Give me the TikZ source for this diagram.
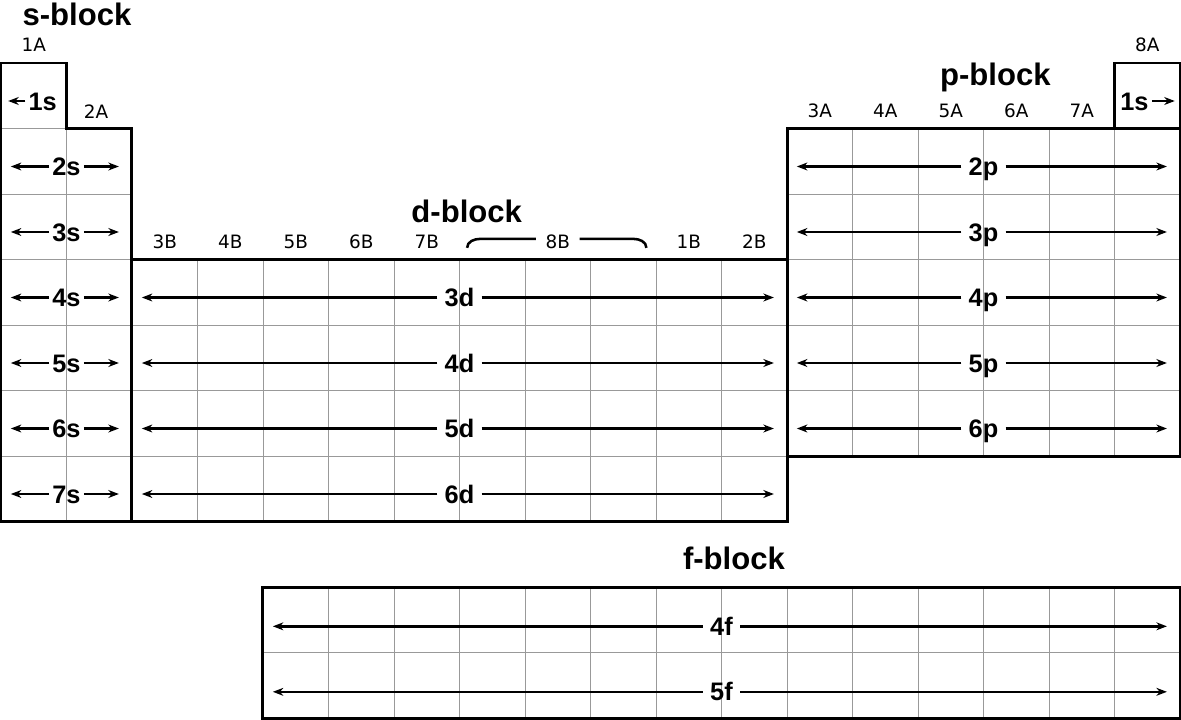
\documentclass[tikz,border=0pt]{standalone}
\usepackage{fontspec}
\setmainfont{DejaVu Sans}
\newfontfamily\headfont{Liberation Sans}
\usetikzlibrary{arrows.meta}

\begin{document}
\begin{tikzpicture}[
  font=\fontsize{8}{9.5}\selectfont,
  blk/.style={font=\headfont\bfseries\fontsize{13.5}{16}\selectfont, anchor=base, inner sep=0pt},
  orb/.style={font=\headfont\bfseries\fontsize{11}{13}\selectfont, text height=7.9pt, text depth=0pt, inner sep=3pt},
  sorb/.style={orb, inner sep=1.2pt},
  grp/.style={inner sep=1pt, text height=5.8pt, text depth=0pt},
  cell/.style={draw=black!40, line width=0.4pt},
  edge/.style={draw, line width=1.3pt},
  arr/.style={-{Stealth[length=1.6mm, width=1.2mm, inset=0.5mm]}, line width=1.1pt},
  brace/.style={line width=1.1pt}
]
\useasboundingbox (-0.015,-10.03) rectangle (18.015,0.962);

% cell grids
\draw[cell] (0,-1) grid (2,-7);
\draw[cell] (2,-3) grid (12,-7);
\draw[cell] (12,-1) grid (18,-6);
\draw[cell] (4,-8) grid (18,-10);

% block outlines
\draw[edge] (0,-7) -- (0,0) -- (1,0) -- (1,-1) -- (2,-1) -- (2,-7) -- cycle;
\draw[edge] (2,-3) rectangle (12,-7);
\draw[edge] (12,-1) rectangle (18,-6);
\draw[edge] (17,-1) -- (17,0) -- (18,0) -- (18,-1);
\draw[edge] (4,-8) rectangle (18,-10);

% block titles
\node[blk] (sblk) at (1.16,0.565) {s-block};
\node[blk] (dblk) at (7.11,-2.44) {d-block};
\node[blk] (pblk) at (15.18,-0.35) {p-block};
\node[blk] (fblk) at (11.19,-7.74) {f-block};

% group numbers
\node[grp] (g1A) at (0.5,0.27) {1A};
\node[grp] (g2A) at (1.45,-0.75) {2A};
\node[grp] (g3A) at (12.5,-0.73) {3A};
\node[grp] (g4A) at (13.5,-0.73) {4A};
\node[grp] (g5A) at (14.5,-0.73) {5A};
\node[grp] (g6A) at (15.5,-0.73) {6A};
\node[grp] (g7A) at (16.5,-0.73) {7A};
\node[grp] (g8A) at (17.5,0.27) {8A};
\node[grp] (g3B) at (2.5,-2.73) {3B};
\node[grp] (g4B) at (3.5,-2.73) {4B};
\node[grp] (g5B) at (4.5,-2.73) {5B};
\node[grp] (g6B) at (5.5,-2.73) {6B};
\node[grp] (g7B) at (6.5,-2.73) {7B};
\node[grp, inner xsep=4pt] (g8B) at (8.5,-2.73) {8B};
\node[grp] (g1B) at (10.5,-2.73) {1B};
\node[grp] (g2B) at (11.5,-2.73) {2B};

% bracket over 8B
\draw[brace] ([yshift=.45mm]g8B.west) -- ++(-0.85,0) to[out=180,in=90] ++(-0.2,-0.137);
\draw[brace] ([yshift=.45mm]g8B.east) -- ++(0.82,0) to[out=0,in=90] ++(0.2,-0.137);

% s block
\node[sorb, anchor=east] (s1) at (0.9,-0.58) {1s};
\coordinate (s1l) at (0.11,-0.58);
\draw[arr] (s1) -- (s1l);
\node[sorb] (s2) at (1,-1.58) {2s};
\coordinate (s2l) at (0.15,-1.58); \coordinate (s2r) at (1.8,-1.58);
\draw[arr] (s2) -- (s2l); \draw[arr] (s2) -- (s2r);
\node[sorb] (s3) at (1,-2.58) {3s};
\coordinate (s3l) at (0.15,-2.58); \coordinate (s3r) at (1.8,-2.58);
\draw[arr] (s3) -- (s3l); \draw[arr] (s3) -- (s3r);
\node[sorb] (s4) at (1,-3.58) {4s};
\coordinate (s4l) at (0.15,-3.58); \coordinate (s4r) at (1.8,-3.58);
\draw[arr] (s4) -- (s4l); \draw[arr] (s4) -- (s4r);
\node[sorb] (s5) at (1,-4.58) {5s};
\coordinate (s5l) at (0.15,-4.58); \coordinate (s5r) at (1.8,-4.58);
\draw[arr] (s5) -- (s5l); \draw[arr] (s5) -- (s5r);
\node[sorb] (s6) at (1,-5.58) {6s};
\coordinate (s6l) at (0.15,-5.58); \coordinate (s6r) at (1.8,-5.58);
\draw[arr] (s6) -- (s6l); \draw[arr] (s6) -- (s6r);
\node[sorb] (s7) at (1,-6.58) {7s};
\coordinate (s7l) at (0.15,-6.58); \coordinate (s7r) at (1.8,-6.58);
\draw[arr] (s7) -- (s7l); \draw[arr] (s7) -- (s7r);

% helium 1s
\node[sorb, anchor=west] (he1) at (17.04,-0.58) {1s};
\coordinate (he1r) at (17.92,-0.58);
\draw[arr] (he1) -- (he1r);

% d block
\node[orb] (d3) at (7,-3.58) {3d};
\coordinate (d3l) at (2.15,-3.58); \coordinate (d3r) at (11.8,-3.58);
\draw[arr] (d3) -- (d3l); \draw[arr] (d3) -- (d3r);
\node[orb] (d4) at (7,-4.58) {4d};
\coordinate (d4l) at (2.15,-4.58); \coordinate (d4r) at (11.8,-4.58);
\draw[arr] (d4) -- (d4l); \draw[arr] (d4) -- (d4r);
\node[orb] (d5) at (7,-5.58) {5d};
\coordinate (d5l) at (2.15,-5.58); \coordinate (d5r) at (11.8,-5.58);
\draw[arr] (d5) -- (d5l); \draw[arr] (d5) -- (d5r);
\node[orb] (d6) at (7,-6.58) {6d};
\coordinate (d6l) at (2.15,-6.58); \coordinate (d6r) at (11.8,-6.58);
\draw[arr] (d6) -- (d6l); \draw[arr] (d6) -- (d6r);

% p block
\node[orb] (p2) at (15,-1.58) {2p};
\coordinate (p2l) at (12.15,-1.58); \coordinate (p2r) at (17.8,-1.58);
\draw[arr] (p2) -- (p2l); \draw[arr] (p2) -- (p2r);
\node[orb] (p3) at (15,-2.58) {3p};
\coordinate (p3l) at (12.15,-2.58); \coordinate (p3r) at (17.8,-2.58);
\draw[arr] (p3) -- (p3l); \draw[arr] (p3) -- (p3r);
\node[orb] (p4) at (15,-3.58) {4p};
\coordinate (p4l) at (12.15,-3.58); \coordinate (p4r) at (17.8,-3.58);
\draw[arr] (p4) -- (p4l); \draw[arr] (p4) -- (p4r);
\node[orb] (p5) at (15,-4.58) {5p};
\coordinate (p5l) at (12.15,-4.58); \coordinate (p5r) at (17.8,-4.58);
\draw[arr] (p5) -- (p5l); \draw[arr] (p5) -- (p5r);
\node[orb] (p6) at (15,-5.58) {6p};
\coordinate (p6l) at (12.15,-5.58); \coordinate (p6r) at (17.8,-5.58);
\draw[arr] (p6) -- (p6l); \draw[arr] (p6) -- (p6r);

% f block
\node[orb] (f4) at (11,-8.6) {4f};
\coordinate (f4l) at (4.15,-8.6); \coordinate (f4r) at (17.8,-8.6);
\draw[arr] (f4) -- (f4l); \draw[arr] (f4) -- (f4r);
\node[orb] (f5) at (11,-9.6) {5f};
\coordinate (f5l) at (4.15,-9.6); \coordinate (f5r) at (17.8,-9.6);
\draw[arr] (f5) -- (f5l); \draw[arr] (f5) -- (f5r);

\end{tikzpicture}
\end{document}
